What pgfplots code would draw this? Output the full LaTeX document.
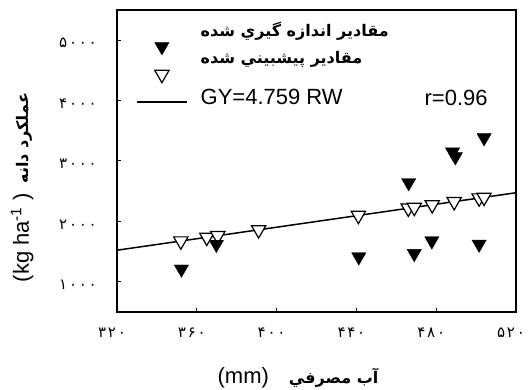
\documentclass[border=0pt]{standalone}
\usepackage{fontspec}
\usepackage{pgfplots}
\pgfplotsset{compat=1.18}
\setmainfont{Liberation Sans}
\newfontfamily\arabicfont[Script=Arabic]{DejaVu Sans}
\newfontfamily\digitfont[LetterSpace=12]{DejaVu Sans}
\TeXXeTstate=1
\newcommand{\faf}{\arabicfont\bfseries\fontsize{16bp}{18bp}\selectfont}
\pgfplotsset{
  lineimg/.style={legend image code/.code={\draw[##1] (0bp,0bp) -- (50bp,0bp);}},
  markimg/.style={legend image code/.code={\draw[mark repeat=2,mark phase=2,##1] plot coordinates {(0bp,0bp) (25bp,0bp) (50bp,0bp)};}},
}
\begin{document}
\begin{tikzpicture}
\begin{axis}[
  scale only axis, width=399bp, height=302bp,
  xmin=320, xmax=520, ymin=500, ymax=5500,
  xtick={320,360,400,440,480,520},
  xticklabels={۳۲۰,۳۶۰,۴۰۰,۴۴۰,۴۸۰,۵۲۰},
  ytick={1000,2000,3000,4000,5000},
  yticklabels={۱۰۰۰,۲۰۰۰,۳۰۰۰,۴۰۰۰,۵۰۰۰},
  tick align=inside, xtick pos=bottom, ytick pos=left,
  major tick length=4bp,
  tick style={black, line width=1bp},
  axis line style={line width=1.5bp},
  xticklabel style={font=\digitfont\fontsize{15bp}{18bp}\selectfont, anchor=center, inner sep=0pt, yshift=-21bp, xshift=-5bp},
  yticklabel style={font=\digitfont\fontsize{15bp}{18bp}\selectfont, anchor=east, inner sep=0pt, xshift=-20bp, yshift=-3bp},
  xlabel={(mm)\hspace{20bp}{\faf\beginR آب مصرفي\endR}},
  ylabel={(kg ha\textsuperscript{-1} )\hspace{10bp}{\faf\beginR عملکرد دانه\endR}},
  label style={font=\fontsize{22bp}{26bp}\selectfont},
  xlabel style={at={(axis description cs:0.4536,-0.2185)}, anchor=center},
  ylabel style={at={(axis description cs:-0.2381,0.412)}, anchor=center},
  reverse legend,
  legend style={at={(axis cs:328,5053)}, anchor=north west, draw=none, fill=none,
    row sep=12bp, column sep=13bp,
    nodes={inner sep=0pt, text height=10bp, text depth=5bp}},
  legend cell align=left,
]
\addplot[line width=1.5bp, lineimg]
  coordinates {(320,1522.9) (520,2474.7)};
\addlegendentry{\fontsize{22bp}{26bp}\selectfont GY=4.759 RW}
\addplot[only marks, mark=triangle*, mark size=8.3pt,
  mark options={rotate=180, fill=white, draw=black, line width=1.2bp}, markimg]
  coordinates {(352,1675) (365,1737) (370.5,1763) (391,1861) (441,2099) (466,2218) (469,2232) (478,2275) (489,2327) (501.5,2387) (504,2399)};
\addlegendentry{\smash{\raisebox{13bp}{\faf\beginR مقادير پيشبيني شده\endR}}}
\addplot[only marks, mark=triangle*, mark size=8.3pt,
  mark options={rotate=180, fill=black, draw=black}, markimg]
  coordinates {(352.3,1210) (369.8,1620) (441.2,1413) (466.2,2641) (469,1468) (477.8,1678) (488.2,3150) (489.6,3070) (504,3385) (501.5,1623)};
\addlegendentry{\smash{\raisebox{13bp}{\faf\beginR مقادير اندازه گيري شده\endR}}}
\node[font=\fontsize{22bp}{26bp}\selectfont] at (axis cs:490,4040) {r=0.96};
\end{axis}
\pgfresetboundingbox
\useasboundingbox (-117bp,-78bp) rectangle (413bp,312bp);
\end{tikzpicture}
\end{document}
